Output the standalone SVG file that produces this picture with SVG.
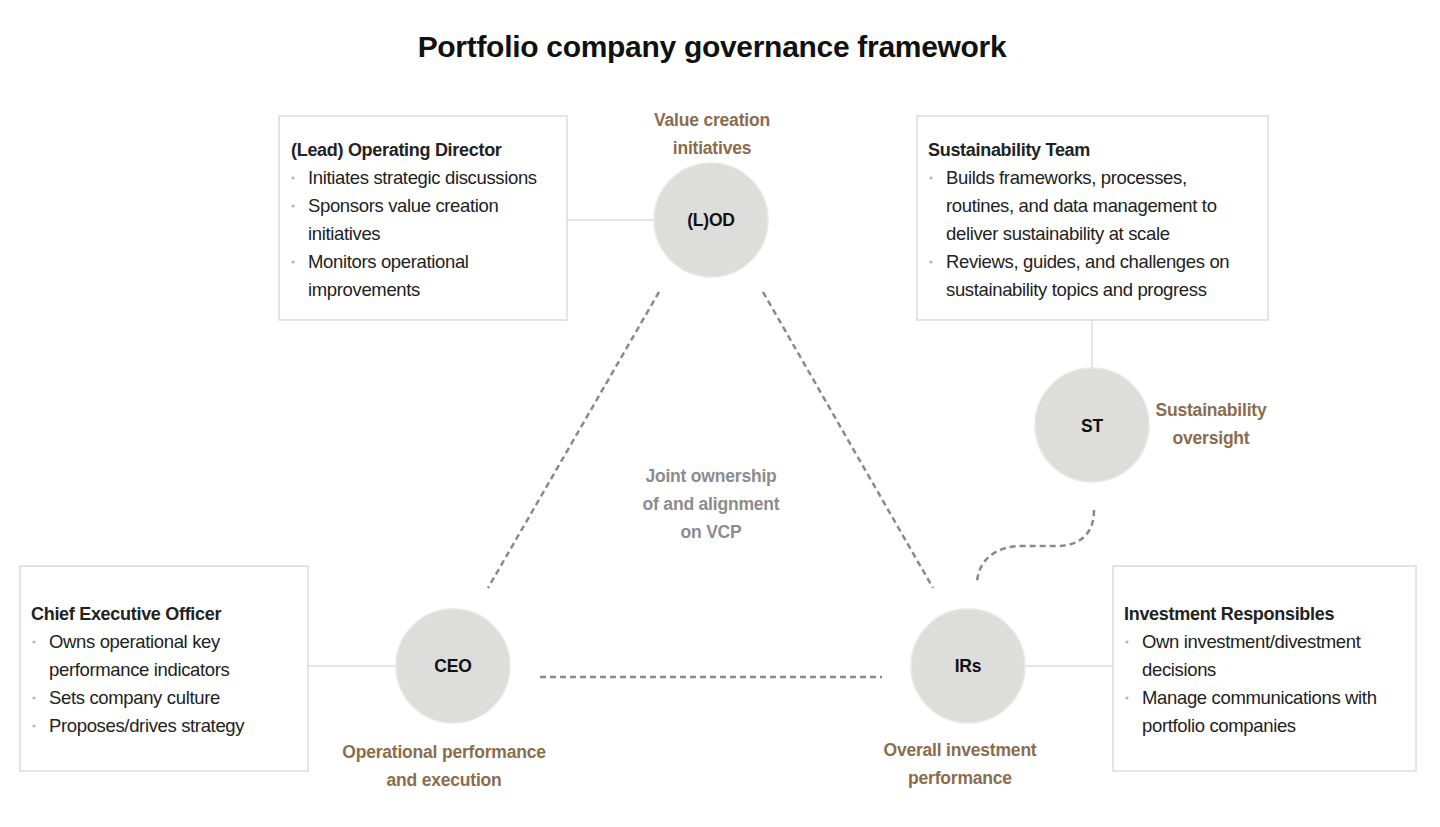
<svg xmlns="http://www.w3.org/2000/svg" width="1440" height="827" viewBox="0 0 1440 827">
<style>
text{font-family:"Liberation Sans",Arial,sans-serif;}
.title{font-size:30px;font-weight:bold;fill:#111;text-anchor:middle;letter-spacing:-0.3px;}
.box{fill:#fff;stroke:#dcdcdc;stroke-width:1.5;}
.head{font-size:18px;font-weight:bold;fill:#222;letter-spacing:-0.3px;}
.item{font-size:18.5px;fill:#222;letter-spacing:-0.35px;}
.dot{fill:#b5b5b5;}
.circ{fill:#dddddc;stroke:#e8e8e8;stroke-width:1.5;}
.clab{font-size:17.5px;font-weight:bold;fill:#111;text-anchor:middle;letter-spacing:-0.2px;}
.brown{font-size:17.5px;font-weight:bold;fill:#8b6d4d;text-anchor:middle;letter-spacing:-0.2px;}
.gray{font-size:17.5px;font-weight:bold;fill:#8c8c8c;text-anchor:middle;letter-spacing:-0.2px;}
.solid{stroke:#dcdcdc;stroke-width:1.5;fill:none;}
.dash{stroke:#8a8a8a;stroke-width:2.5;stroke-dasharray:6 4;fill:none;}
</style>
<rect width="1440" height="827" fill="#fff"/>
<text class="title" x="712" y="57">Portfolio company governance framework</text>

<g id="connectors">
<line class="solid" x1="567" y1="220" x2="654" y2="220"/>
<line class="solid" x1="1092" y1="320" x2="1092" y2="368"/>
<line class="solid" x1="308" y1="666" x2="396" y2="666"/>
<line class="solid" x1="1025" y1="666" x2="1113" y2="666"/>
<line class="dash" x1="659" y1="292" x2="488" y2="588"/>
<line class="dash" x1="763" y1="292" x2="933" y2="588"/>
<line class="dash" x1="540" y1="677" x2="882" y2="677"/>
<path class="dash" d="M1094,510 C1094,534 1080,546 1056,546 L1022,546 C996,546 978,560 977,583"/>
</g>

<g id="lod-box">
<rect class="box" x="279" y="116" width="288" height="204"/>
<text class="head" x="291" y="156">(Lead) Operating Director</text>
<circle class="dot" cx="293" cy="178" r="1.6"/>
<text class="item" x="308" y="184">Initiates strategic discussions</text>
<circle class="dot" cx="293" cy="206" r="1.6"/>
<text class="item" x="308" y="212">Sponsors value creation</text>
<text class="item" x="308" y="240">initiatives</text>
<circle class="dot" cx="293" cy="262" r="1.6"/>
<text class="item" x="308" y="268">Monitors operational</text>
<text class="item" x="308" y="296">improvements</text>
</g>

<g id="st-box">
<rect class="box" x="917" y="116" width="351" height="204"/>
<text class="head" x="928" y="156">Sustainability Team</text>
<circle class="dot" cx="931" cy="178" r="1.6"/>
<text class="item" x="946" y="184">Builds frameworks, processes,</text>
<text class="item" x="946" y="212">routines, and data management to</text>
<text class="item" x="946" y="240">deliver sustainability at scale</text>
<circle class="dot" cx="931" cy="262" r="1.6"/>
<text class="item" x="946" y="268">Reviews, guides, and challenges on</text>
<text class="item" x="946" y="296">sustainability topics and progress</text>
</g>

<g id="ceo-box">
<rect class="box" x="20" y="566" width="288" height="205"/>
<text class="head" x="31" y="620">Chief Executive Officer</text>
<circle class="dot" cx="34" cy="642" r="1.6"/>
<text class="item" x="49" y="648">Owns operational key</text>
<text class="item" x="49" y="676">performance indicators</text>
<circle class="dot" cx="34" cy="698" r="1.6"/>
<text class="item" x="49" y="704">Sets company culture</text>
<circle class="dot" cx="34" cy="726" r="1.6"/>
<text class="item" x="49" y="732">Proposes/drives strategy</text>
</g>

<g id="ir-box">
<rect class="box" x="1113" y="566" width="303" height="205"/>
<text class="head" x="1124" y="620">Investment Responsibles</text>
<circle class="dot" cx="1127" cy="642" r="1.6"/>
<text class="item" x="1142" y="648">Own investment/divestment</text>
<text class="item" x="1142" y="676">decisions</text>
<circle class="dot" cx="1127" cy="698" r="1.6"/>
<text class="item" x="1142" y="704">Manage communications with</text>
<text class="item" x="1142" y="732">portfolio companies</text>
</g>

<g id="lod">
<circle class="circ" cx="711" cy="220" r="57"/>
<text class="clab" x="711" y="226">(L)OD</text>
<text class="brown" x="712" y="126">Value creation</text>
<text class="brown" x="712" y="154">initiatives</text>
</g>

<g id="st">
<circle class="circ" cx="1092" cy="425" r="57"/>
<text class="clab" x="1092" y="432">ST</text>
<text class="brown" x="1211" y="416">Sustainability</text>
<text class="brown" x="1211" y="444">oversight</text>
</g>

<g id="ceo">
<circle class="circ" cx="453" cy="666" r="57"/>
<text class="clab" x="453" y="672">CEO</text>
<text class="brown" x="444" y="758">Operational performance</text>
<text class="brown" x="444" y="786">and execution</text>
</g>

<g id="irs">
<circle class="circ" cx="968" cy="666" r="57"/>
<text class="clab" x="968" y="672">IRs</text>
<text class="brown" x="960" y="756">Overall investment</text>
<text class="brown" x="960" y="784">performance</text>
</g>

<g id="vcp-label">
<text class="gray" x="711" y="482">Joint ownership</text>
<text class="gray" x="711" y="510">of and alignment</text>
<text class="gray" x="711" y="538">on VCP</text>
</g>
</svg>
